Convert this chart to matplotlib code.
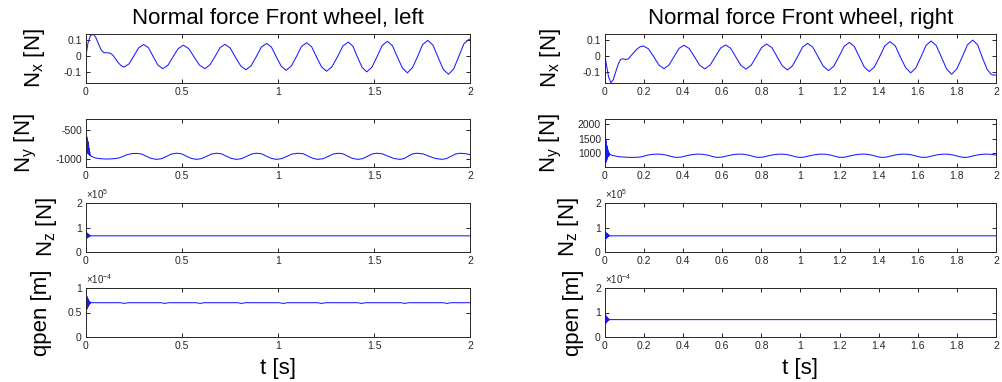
import numpy as np
import matplotlib
matplotlib.use('Agg')
import matplotlib.pyplot as plt
from matplotlib.ticker import FuncFormatter

plt.rcParams['font.family'] = ['Liberation Sans', 'DejaVu Sans']
plt.rcParams['mathtext.fontset'] = 'custom'
plt.rcParams['mathtext.rm'] = 'Liberation Sans'
plt.rcParams['mathtext.it'] = 'Liberation Sans:italic'

# --- dati ---
# transitorio iniziale (comune a Ny, Nz, qpen)
t_spike = [0.000, 0.0015, 0.003, 0.0045, 0.006, 0.0075, 0.009, 0.0105, 0.012,
           0.0135, 0.015, 0.0165, 0.018, 0.0195, 0.021, 0.0225, 0.025]

# Nx sinistra
t_nx_l = [0.000, 0.010, 0.022, 0.036, 0.050, 0.065, 0.080, 0.095, 0.110, 0.125, 0.140,
          0.155, 0.170, 0.185, 0.198, 0.224, 0.249, 0.274, 0.300, 0.325, 0.350, 0.375,
          0.400, 0.427, 0.453, 0.480, 0.507, 0.535, 0.563, 0.591, 0.620, 0.646, 0.672,
          0.698, 0.724, 0.751, 0.778, 0.806, 0.833, 0.860, 0.887, 0.914, 0.941, 0.966,
          0.991, 1.017, 1.042, 1.069, 1.096, 1.122, 1.149, 1.175, 1.201, 1.227, 1.253,
          1.281, 1.310, 1.338, 1.366, 1.390, 1.414, 1.438, 1.462, 1.489, 1.516, 1.543,
          1.570, 1.596, 1.622, 1.648, 1.674, 1.700, 1.727, 1.753, 1.780, 1.807, 1.834,
          1.861, 1.888, 1.915, 1.941, 1.968, 1.995, 2.000]
nx_l = [0.000, 0.080, 0.125, 0.138, 0.120, 0.075, 0.035, 0.020, 0.020, 0.018, 0.005,
        -0.020, -0.045, -0.063, -0.070, -0.050, 0.000, 0.051, 0.072, 0.052, -0.004, -0.058,
        -0.080, -0.058, -0.006, 0.046, 0.068, 0.046, -0.006, -0.058, -0.080, -0.055, -0.004,
        0.052, 0.073, 0.050, -0.007, -0.063, -0.087, -0.062, -0.004, 0.057, 0.079, 0.055,
        -0.005, -0.065, -0.090, -0.064, -0.004, 0.059, 0.083, 0.058, -0.007, -0.069, -0.096,
        -0.068, -0.005, 0.063, 0.087, 0.061, -0.007, -0.072, -0.100, -0.071, -0.004, 0.066,
        0.092, 0.064, -0.007, -0.076, -0.106, -0.074, -0.004, 0.071, 0.098, 0.068, -0.009,
        -0.085, -0.115, -0.082, -0.005, 0.076, 0.105, 0.105]

# Nx destra
t_nx_r = [0.000, 0.008, 0.018, 0.030, 0.042, 0.055, 0.068, 0.080, 0.090, 0.105, 0.120,
          0.135, 0.150, 0.165, 0.180, 0.196, 0.222, 0.249, 0.276, 0.302, 0.328, 0.353,
          0.379, 0.404, 0.431, 0.458, 0.484, 0.511, 0.538, 0.564, 0.591, 0.617, 0.643,
          0.669, 0.695, 0.721, 0.748, 0.774, 0.801, 0.827, 0.854, 0.880, 0.907, 0.933,
          0.959, 0.985, 1.011, 1.036, 1.063, 1.090, 1.116, 1.143, 1.170, 1.197, 1.223,
          1.250, 1.275, 1.301, 1.326, 1.352, 1.378, 1.405, 1.431, 1.458, 1.485, 1.511,
          1.538, 1.564, 1.590, 1.616, 1.642, 1.668, 1.694, 1.721, 1.747, 1.773, 1.800,
          1.827, 1.854, 1.881, 1.906, 1.930, 1.955, 1.975, 1.988, 2.000]
nx_r = [0.000, -0.060, -0.130, -0.168, -0.150, -0.100, -0.050, -0.022, -0.018, -0.022, -0.018,
        0.005, 0.025, 0.045, 0.058, 0.063, 0.045, -0.004, -0.057, -0.080, -0.056, -0.005,
        0.048, 0.067, 0.047, -0.006, -0.058, -0.081, -0.057, -0.005, 0.049, 0.069, 0.048,
        -0.006, -0.059, -0.083, -0.058, -0.004, 0.053, 0.075, 0.052, -0.005, -0.062, -0.088,
        -0.062, -0.004, 0.056, 0.079, 0.055, -0.005, -0.064, -0.092, -0.065, -0.003, 0.060,
        0.085, 0.060, -0.006, -0.069, -0.098, -0.069, -0.004, 0.063, 0.090, 0.063, -0.007,
        -0.074, -0.106, -0.075, -0.006, 0.066, 0.094, 0.066, -0.008, -0.081, -0.115, -0.081,
        -0.007, 0.070, 0.100, 0.070, -0.010, -0.085, -0.115, -0.120, -0.120]

# Ny sinistra
t_ny_l = t_spike + [0.035, 0.050, 0.070, 0.090, 0.110, 0.130, 0.150, 0.170, 0.190, 0.215,
                    0.240, 0.264, 0.290, 0.315, 0.340, 0.368, 0.395, 0.420, 0.445, 0.472,
                    0.498, 0.524, 0.550, 0.576, 0.602, 0.628, 0.654, 0.680, 0.706, 0.732,
                    0.758, 0.785, 0.811, 0.837, 0.863, 0.889, 0.915, 0.941, 0.967, 0.993,
                    1.020, 1.047, 1.074, 1.106, 1.133, 1.158, 1.184, 1.210, 1.236, 1.262,
                    1.288, 1.314, 1.339, 1.364, 1.390, 1.417, 1.442, 1.466, 1.490, 1.514,
                    1.544, 1.574, 1.604, 1.635, 1.656, 1.677, 1.699, 1.722, 1.755, 1.787,
                    1.820, 1.853, 1.877, 1.901, 1.925, 1.948, 1.975, 2.000]
ny_l = [-900, -600, -880, -620, -870, -660, -900, -700, -910, -760, -920, -820, -930,
        -880, -940, -925, -950] + \
       [-965, -985, -995, -1000, -1002, -1000, -995, -985, -960, -925,
        -908, -905, -915, -955, -992, -1008, -995, -955, -915, -902,
        -912, -955, -993, -1008, -995, -955, -915, -902, -912, -955,
        -993, -1008, -995, -955, -915, -902, -912, -955, -993, -1008,
        -995, -955, -915, -902, -912, -955, -993, -1008, -995, -955,
        -915, -902, -912, -955, -993, -1008, -995, -955, -915, -902,
        -912, -955, -993, -1008, -995, -955, -915, -902, -912, -955,
        -993, -1008, -995, -955, -915, -902, -910, -925]

# Ny destra
t_ny_r = t_spike + [0.035, 0.050, 0.070, 0.090, 0.110, 0.130, 0.150, 0.170, 0.190, 0.210,
                    0.235, 0.260, 0.285, 0.310, 0.335, 0.360, 0.385, 0.410, 0.440, 0.470,
                    0.495, 0.520, 0.545, 0.570, 0.595, 0.620, 0.650, 0.680, 0.705, 0.730,
                    0.755, 0.780, 0.805, 0.830, 0.860, 0.890, 0.915, 0.940, 0.965, 0.990,
                    1.015, 1.040, 1.070, 1.100, 1.125, 1.150, 1.175, 1.200, 1.225, 1.250,
                    1.280, 1.310, 1.335, 1.360, 1.385, 1.410, 1.435, 1.460, 1.490, 1.520,
                    1.545, 1.570, 1.595, 1.620, 1.645, 1.670, 1.700, 1.730, 1.755, 1.780,
                    1.805, 1.830, 1.855, 1.880, 1.910, 1.940, 1.965, 1.985, 2.000]
ny_r = [1000, 1550, 640, 1450, 700, 1350, 760, 1250, 830, 1150, 880, 1080, 900, 1030,
        920, 980, 960] + \
       [930, 905, 880, 870, 860, 855, 855, 860, 880, 920,
        955, 968, 965, 940, 895, 855, 860, 900, 945, 968,
        965, 940, 895, 855, 860, 900, 945, 968, 965, 940,
        895, 855, 860, 900, 945, 968, 965, 940, 895, 855,
        860, 900, 945, 968, 965, 940, 895, 855, 860, 900,
        945, 968, 965, 940, 895, 855, 860, 900, 945, 968,
        965, 940, 895, 855, 860, 900, 945, 968, 965, 940,
        895, 855, 860, 900, 945, 968, 965, 950, 935]

# Nz (uguale nei due lati)
t_nz = t_spike + [2.000]
nz_l = [66000, 80000, 55000, 78000, 57000, 76000, 59000, 74000, 61000, 72000, 63000,
        70000, 64000, 68000, 65000, 67000, 66000, 66000]
nz_r = [66000, 81000, 54000, 79000, 56000, 77000, 58000, 75000, 60000, 73000, 62000,
        71000, 63000, 69000, 64500, 67500, 66000, 66000]

# qpen
t_qp_l = t_spike + [0.180, 0.200, 0.220, 0.390, 0.410, 0.430, 0.575, 0.594, 0.615,
                    0.790, 0.810, 0.830, 1.005, 1.027, 1.050, 1.205, 1.228, 1.250,
                    1.415, 1.436, 1.458, 1.640, 1.660, 1.680, 1.860, 1.880, 1.900, 2.000]
qp_l = [7.0e-5, 8.5e-5, 5.6e-5, 8.3e-5, 5.8e-5, 8.0e-5, 6.1e-5, 7.8e-5, 6.3e-5, 7.5e-5,
        6.5e-5, 7.3e-5, 6.7e-5, 7.2e-5, 6.8e-5, 7.1e-5, 7.0e-5] + \
       [7.0e-5, 6.85e-5, 7.0e-5, 7.0e-5, 6.85e-5, 7.0e-5, 7.0e-5, 6.85e-5, 7.0e-5,
        7.0e-5, 6.85e-5, 7.0e-5, 7.0e-5, 6.85e-5, 7.0e-5, 7.0e-5, 6.85e-5, 7.0e-5,
        7.0e-5, 6.85e-5, 7.0e-5, 7.0e-5, 6.85e-5, 7.0e-5, 7.0e-5, 6.85e-5, 7.0e-5, 7.0e-5]
t_qp_r = t_spike + [2.000]
qp_r = [7.1e-5, 9.0e-5, 5.5e-5, 8.7e-5, 5.8e-5, 8.4e-5, 6.1e-5, 8.1e-5, 6.3e-5, 7.8e-5,
        6.6e-5, 7.5e-5, 6.8e-5, 7.3e-5, 6.9e-5, 7.2e-5, 7.1e-5, 7.1e-5]

titles = ['Normal force Front wheel, left', 'Normal force Front wheel, right']
ylabels = ['N$_\\mathregular{x}$ [N]', 'N$_\\mathregular{y}$ [N]',
           'N$_\\mathregular{z}$ [N]', 'qpen [m]']

# --- grafico ---
fig = plt.figure(figsize=(10.03, 3.82), dpi=100)

cols = [(86 / 1003, 384 / 1003), (605 / 1003, 391 / 1003)]
rows = [(34, 83), (119, 167), (203, 252), (288, 337)]
lpad = [[12, 12, 12, 11], [14, 10, 10, 8]]

series = [
    [(t_nx_l, nx_l), (t_ny_l, ny_l), (t_nz, nz_l), (t_qp_l, qp_l)],
    [(t_nx_r, nx_r), (t_ny_r, ny_r), (t_nz, nz_r), (t_qp_r, qp_r)],
]
ylims = [
    [(-0.170, 0.138), (-1140, -310), (0, 2e5), (0, 1e-4)],
    [(-0.170, 0.138), (520, 2190), (0, 2e5), (0, 2e-4)],
]
yticks = [
    [[-0.1, 0, 0.1], [-1000, -500], [0, 1e5, 2e5], [0, 0.5e-4, 1e-4]],
    [[-0.1, 0, 0.1], [1000, 1500, 2000], [0, 1e5, 2e5], [0, 1e-4, 2e-4]],
]
scale = [1, 1, 1e5, 1e-4]
xt = [[0, 0.5, 1, 1.5, 2], [0, 0.2, 0.4, 0.6, 0.8, 1, 1.2, 1.4, 1.6, 1.8, 2]]

for c in range(2):
    x0, w = cols[c]
    for r in range(4):
        top, bot = rows[r]
        ax = fig.add_axes((x0, 1 - bot / 382, w, (bot - top) / 382))
        t, v = series[c][r]
        ax.plot(t, v, color='#1a1aff', lw=0.75)
        ax.set_xlim(0, 2)
        ax.set_ylim(*ylims[c][r])
        ax.set_xticks(xt[c])
        ax.set_yticks(yticks[c][r])
        s = scale[r]
        ax.xaxis.set_major_formatter(FuncFormatter(lambda val, p: '%g' % val))
        ax.yaxis.set_major_formatter(FuncFormatter(lambda val, p, s=s: '%g' % round(val / s, 6)))
        ax.tick_params(direction='in', top=True, right=True, length=3, width=0.6,
                       labelsize=7.5, labelcolor='#262626', pad=3)
        for sp in ax.spines.values():
            sp.set_linewidth(0.7)
            sp.set_color('#262626')
        ax.set_ylabel(ylabels[r], fontsize=16, labelpad=lpad[c][r])
        if s != 1:
            ax.text(0, 1.04, '$\\mathregular{\\times 10^{%d}}$' % int(round(np.log10(s))),
                    transform=ax.transAxes, fontsize=7, ha='left', va='bottom',
                    color='#262626')
        if r == 0:
            ax.set_title(titles[c], fontsize=16, pad=7)
        if r == 3:
            ax.set_xlabel('t [s]', fontsize=16, labelpad=5)

fig.savefig('out.png', dpi=100)
